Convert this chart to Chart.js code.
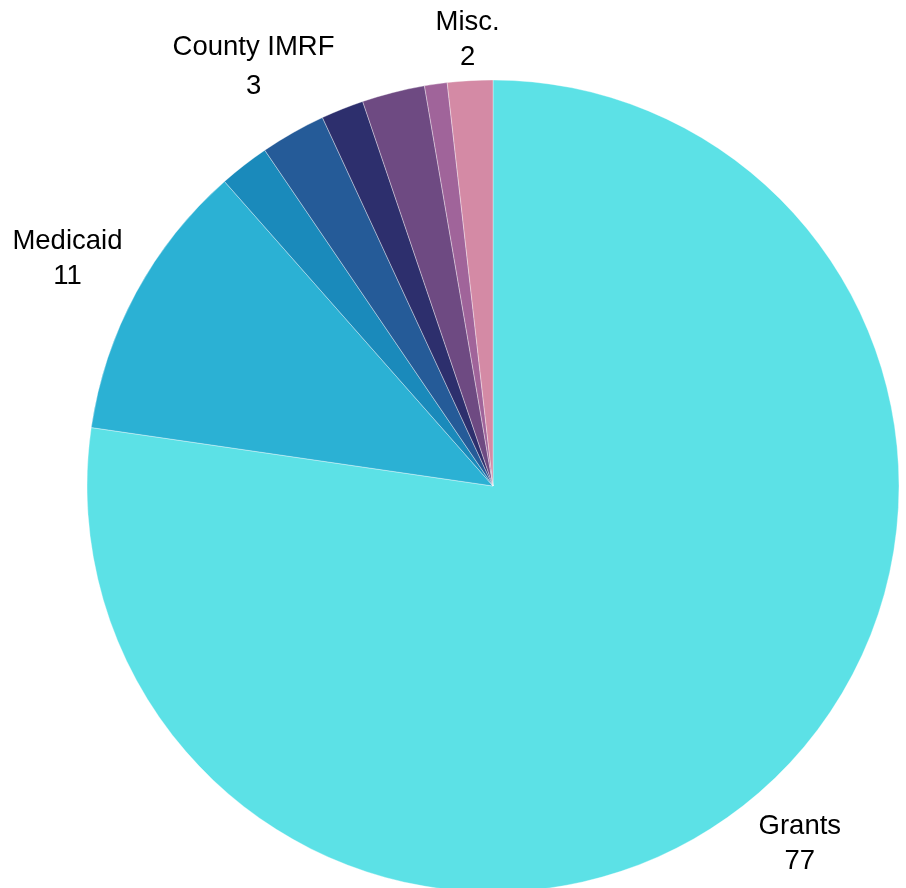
<!DOCTYPE html>
<html>
<head>
<meta charset="utf-8">
<script src="https://cdn.jsdelivr.net/npm/chart.js@4"></script>
<style>
  html, body { margin: 0; padding: 0; background: #fff; overflow: hidden; }
  #wrap { position: relative; width: 906px; height: 888px; }
</style>
</head>
<body>
<div id="wrap"><canvas id="c"></canvas></div>
<script>
// ---- Data ----
const categories = ['Grants', 'Medicaid', 'Other State', 'County IMRF', 'Other Local', 'Township, City, County', 'Other', 'Misc.'];
const values = [77.3, 11.2, 2.0, 2.6, 1.7, 2.5, 0.9, 1.8];
const sliceColors = ['#5ce1e6', '#2bb1d4', '#1a8abb', '#255b98', '#2d2f6d', '#6e4a82', '#a0649a', '#d48aa5'];
const labelShown = [true, true, false, true, false, true, false, true];

// ---- Label plugin ----
const outLabels = {
  id: 'outLabels',
  afterDatasetsDraw(chart, args, opts) {
    const ctx = chart.ctx;
    const meta = chart.getDatasetMeta(0);
    ctx.save();
    ctx.font = opts.font;
    ctx.fillStyle = opts.color;
    ctx.textAlign = 'center';
    ctx.textBaseline = 'middle';
    meta.data.forEach((arc, i) => {
      if (!labelShown[i]) return;
      const p = arc.getProps(['x', 'y', 'startAngle', 'endAngle', 'outerRadius'], true);
      const mid = (p.startAngle + p.endAngle) / 2;
      const d = p.outerRadius + opts.gaps[i];
      const cx = p.x + Math.cos(mid) * d;
      const cy = p.y + Math.sin(mid) * d + opts.shiftY;
      const lines = [chart.data.labels[i], String(Math.round(chart.data.datasets[0].data[i]))];
      const lh = opts.lineHeight[i];
      lines.forEach((t, k) => {
        ctx.fillText(t, cx, cy + (k - (lines.length - 1) / 2) * lh);
      });
    });
    ctx.restore();
  }
};

new Chart(document.getElementById('c'), {
  type: 'pie',
  data: {
    labels: categories,
    datasets: [{
      data: values,
      backgroundColor: sliceColors,
      borderColor: 'rgba(255,255,255,0.45)',
      borderWidth: 0.8,
      clip: false
    }]
  },
  options: {
    responsive: true,
    maintainAspectRatio: false,
    animation: false,
    radius: 406,
    layout: { padding: { left: 80, right: 0, top: 84, bottom: 0 } },
    plugins: {
      legend: { display: false },
      tooltip: { enabled: false },
      outLabels: {
        font: '27.5px "Liberation Sans", Arial, sans-serif',
        color: '#000',
        shiftY: 3.5,
        lineHeight: [35, 35, 35, 39, 35, 35, 35, 35],
        gaps: [63, 78, 0, 80, 0, 154, 0, 44]
      }
    }
  },
  plugins: [outLabels]
});
</script>
</body>
</html>
